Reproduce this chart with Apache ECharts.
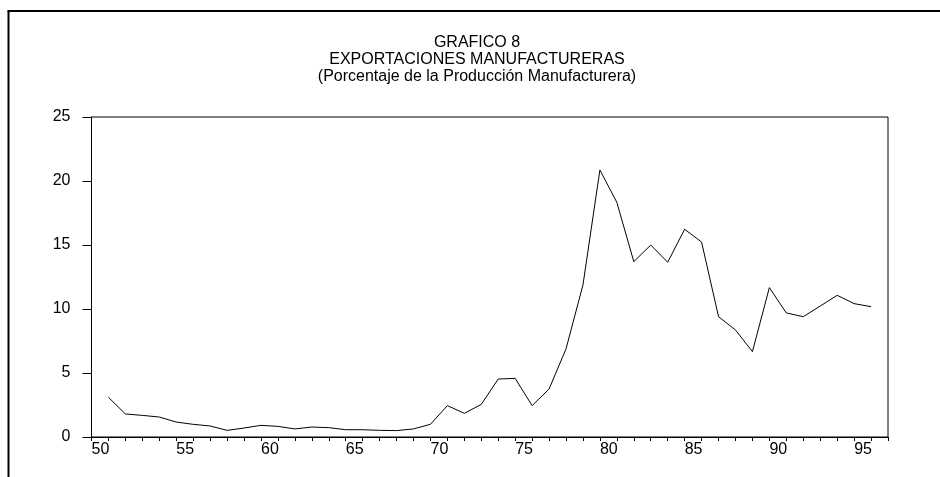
<!DOCTYPE html>
<html>
<head>
<meta charset="utf-8">
<script src="https://cdn.jsdelivr.net/npm/echarts@6/dist/echarts.min.js"></script>
<style>
html,body{margin:0;padding:0;background:#fff;}
#c{width:940px;height:477px;}
</style>
</head>
<body>
<div id="c"></div>
<script>
const titleLines = ['GRAFICO 8', 'EXPORTACIONES MANUFACTURERAS', '(Porcentaje de la Producción Manufacturera)'];
const years = [50,51,52,53,54,55,56,57,58,59,60,61,62,63,64,65,66,67,68,69,70,71,72,73,74,75,76,77,78,79,80,81,82,83,84,85,86,87,88,89,90,91,92,93,94,95];
const values = [3.1,1.8,1.69,1.56,1.17,0.99,0.86,0.52,0.70,0.91,0.83,0.63,0.78,0.73,0.57,0.57,0.52,0.50,0.63,0.99,2.45,1.85,2.55,4.53,4.58,2.45,3.75,6.88,11.88,20.86,18.33,13.70,15.0,13.65,16.23,15.23,9.4,8.36,6.67,11.67,9.69,9.4,10.23,11.07,10.42,10.18];
const yTicks = [0,5,10,15,20,25];

const chart = echarts.init(document.getElementById('c'), null, {renderer:'canvas'});
const font = 'Liberation Sans, Arial, sans-serif';
chart.setOption({
  animation: false,
  backgroundColor: '#fff',
  title: {
    text: titleLines.join('\n'),
    left: 472, top: 29, textAlign: 'center',
    textStyle: {fontSize: 16, fontWeight: 'normal', color: '#000', lineHeight: 17, fontFamily: font}
  },
  graphic: [
    {type:'line', shape:{x1:8.5,y1:11,x2:8.5,y2:477}, style:{stroke:'#000', lineWidth:2}},
    {type:'line', shape:{x1:7.5,y1:11,x2:940,y2:11}, style:{stroke:'#000', lineWidth:2}}
  ],
  grid: {left: 91.5, right: 52, top: 117, bottom: 40, show: true, borderColor: '#000', borderWidth: 1},
  xAxis: {
    type: 'value', min: 49, max: 96, interval: 1,
    axisLine: {show: true, lineStyle: {color: '#000', width: 1}},
    axisTick: {show: true, length: 4, lineStyle: {color: '#000'}},
    splitLine: {show: false},
    axisLabel: {
      color: '#000', fontSize: 16, fontFamily: font, margin: 5,
      padding: [0, 16, 0, 0],
      formatter: v => (years.indexOf(v) >= 0 && v % 5 === 0) ? String(v) : ''
    }
  },
  yAxis: {
    type: 'value', min: yTicks[0], max: yTicks[yTicks.length-1], interval: 5,
    axisLine: {show: true, lineStyle: {color: '#000', width: 1}},
    axisTick: {show: true, length: 9, lineStyle: {color: '#000'}},
    splitLine: {show: false},
    axisLabel: {color: '#000', fontSize: 16, fontFamily: font, margin: 21}
  },
  series: [{
    type: 'line',
    data: years.map((y, i) => [y, values[i]]),
    showSymbol: false, symbol: 'none',
    lineStyle: {color: '#000', width: 1},
    silent: true
  }]
});
</script>
</body>
</html>
